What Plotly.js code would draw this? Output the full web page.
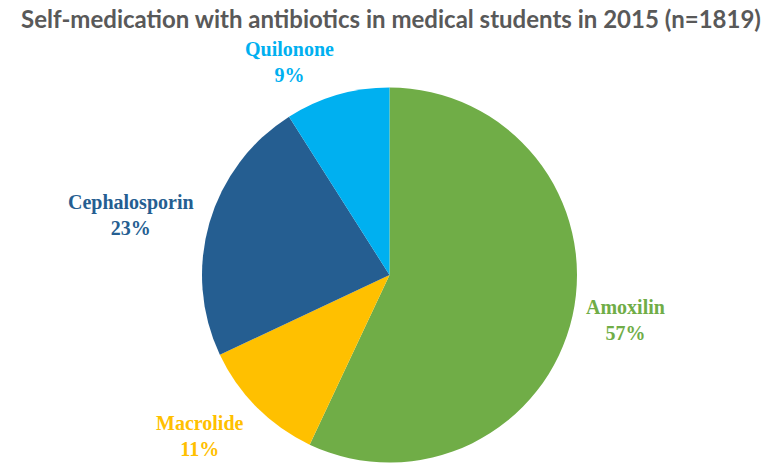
<!DOCTYPE html>
<html>
<head>
<meta charset="utf-8">
<script src="https://cdn.plot.ly/plotly-3.0.1.min.js"></script>
<style>html,body{margin:0;padding:0;background:#fff;}#chart{width:782px;height:466px;}</style>
</head>
<body>
<div id="chart"></div>
<script>
const categories = ['Amoxilin', 'Macrolide', 'Cephalosporin', 'Quilonone'];
const percentValues = [57, 11, 23, 9];
const sliceColors = ['#70AD47', '#FFC000', '#255E91', '#00B0F0'];
const chartTitle = 'Self-medication with antibiotics in medical students in 2015 (n=1819)';

// label anchor positions in paper coordinates (layout only)
const labelPos = [
  {x: 625 / 782, y: 1 - 320 / 466},
  {x: 200 / 782, y: 1 - 436 / 466},
  {x: 131 / 782, y: 1 - 215 / 466},
  {x: 289 / 782, y: 1 - 62 / 466}
];

const trace = {
  type: 'pie',
  labels: categories,
  values: percentValues,
  sort: false,
  direction: 'clockwise',
  rotation: 0,
  textinfo: 'none',
  hoverinfo: 'label+percent',
  marker: {colors: sliceColors, line: {width: 0}},
  domain: {x: [202 / 782, 577 / 782], y: [1 - 462.5 / 466, 1 - 87.5 / 466]},
  showlegend: false
};

const annotations = categories.map((c, i) => ({
  text: '<b>' + c + '<br>' + percentValues[i] + '%</b>',
  x: labelPos[i].x,
  y: labelPos[i].y,
  xref: 'paper', yref: 'paper',
  xanchor: 'center', yanchor: 'middle',
  showarrow: false,
  align: 'center',
  font: {family: 'Liberation Serif, Times New Roman, serif', size: 20, color: sliceColors[i]}
}));

const layout = {
  width: 782,
  height: 466,
  margin: {l: 0, r: 0, t: 0, b: 0},
  paper_bgcolor: '#ffffff',
  title: {
    text: '<b>' + chartTitle + '</b>',
    x: 0.5, xanchor: 'center',
    y: 1 - 20 / 466, yanchor: 'middle',
    font: {family: 'Lato, Open Sans, sans-serif', size: 24, color: '#595959'}
  },
  annotations: annotations
};

Plotly.newPlot('chart', [trace], layout, {displayModeBar: false, staticPlot: true});
</script>
</body>
</html>
